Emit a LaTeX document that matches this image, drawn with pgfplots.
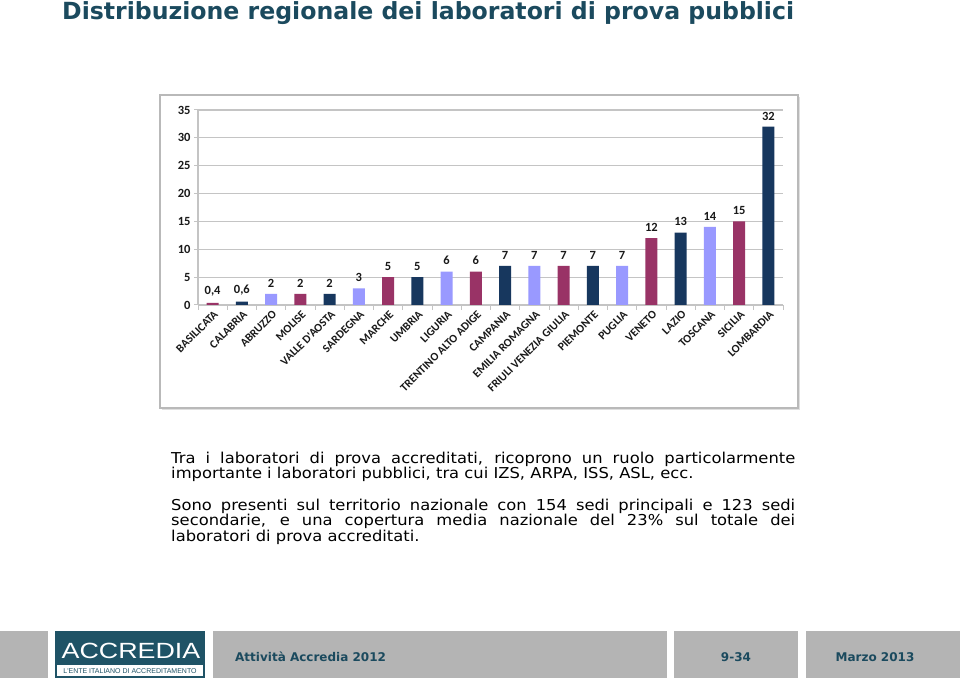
\documentclass[border=0pt]{standalone}
\usepackage{fontspec}
\setmainfont{DejaVu Sans}
\newfontfamily\carlito{Carlito}
\newfontfamily\libsans{Liberation Sans}
\usepackage{pgfplots}
\pgfplotsset{compat=1.18}
\definecolor{navy}{HTML}{17375E}
\definecolor{lilac}{HTML}{9999FF}
\definecolor{maroonc}{HTML}{993366}
\definecolor{titlecol}{HTML}{1B4A5E}
\definecolor{footgray}{HTML}{B4B4B4}
\definecolor{logoteal}{HTML}{1F5366}
\definecolor{gridc}{HTML}{C4C4C4}
\begin{document}
\begin{tikzpicture}[x=1pt,y=1pt]
\path[use as bounding box] (0,0) rectangle (960,680);
\fill[white] (0,0) rectangle (960,680);
% title
\node[anchor=base west, text=titlecol, font=\fontsize{23.6}{27}\selectfont\bfseries, inner sep=0] at (62,660) {Distribuzione regionale dei laboratori di prova pubblici};
% chart frame
\fill[gray!25] (162,270) rectangle (800,583);
\draw[gray!55, line width=1.5, fill=white] (160,272) rectangle (798,585);
\begin{axis}[
  at={(198pt,375pt)}, anchor=south west,
  scale only axis, width=585pt, height=195pt,
  xmin=-0.5, xmax=19.5, ymin=0, ymax=35,
  ybar, bar width=12pt,
  axis x line*=bottom, axis y line*=left,
  axis line style={draw=gridc, line width=1.2pt},
  ytick={0,5,...,35},
  ymajorgrids, grid style={draw=gridc, line width=1.2pt},
  ytick align=outside, ytick style={draw=gridc, line width=1pt}, major tick length=4pt,
  xtick={0,...,19}, xtick style={draw=none},
  minor xtick={-0.5,0.5,...,19.5}, minor tick length=5pt, xminorticks=true,
  minor x tick style={draw=gridc, line width=1pt},
  xtick align=outside,
  xticklabels={BASILICATA,CALABRIA,ABRUZZO,MOLISE,VALLE D'AOSTA,SARDEGNA,MARCHE,UMBRIA,LIGURIA,TRENTINO ALTO ADIGE,CAMPANIA,EMILIA ROMAGNA,FRIULI VENEZIA GIULIA,PIEMONTE,PUGLIA,VENETO,LAZIO,TOSCANA,SICILIA,LOMBARDIA},
  x tick label style={rotate=45, anchor=east, font=\carlito\bfseries\fontsize{11.5}{12}\selectfont, color=black!90, inner sep=1pt, yshift=-5pt, xshift=1pt},
  y tick label style={font=\carlito\bfseries\fontsize{12.5}{13}\selectfont, color=black!90},
  /pgf/number format/assume math mode=true,
  /pgf/number format/use comma,
  nodes near coords,
  every node near coord/.append style={font=\carlito\bfseries\fontsize{12.5}{13}\selectfont, color=black!90, yshift=3pt},
]
\addplot[fill=maroonc, draw=none, bar shift=0pt] coordinates {(0,0.4) (3,2) (6,5) (9,6) (12,7) (15,12) (18,15)};
\addplot[fill=navy, draw=none, bar shift=0pt] coordinates {(1,0.6) (4,2) (7,5) (10,7) (13,7) (16,13) (19,32)};
\addplot[fill=lilac, draw=none, bar shift=0pt] coordinates {(2,2) (5,3) (8,6) (11,7) (14,7) (17,14)};
\end{axis}
% paragraphs
\begin{scope}[every node/.style={anchor=base west, inner sep=0, xscale=1.09, font=\fontsize{15}{16}\selectfont}]
\node at (171,216) {\makebox[572.5pt][s]{Tra i laboratori di prova accreditati, ricoprono un ruolo particolarmente}};
\node at (171,201) {importante i laboratori pubblici, tra cui IZS, ARPA, ISS, ASL, ecc.};
\node at (171,170) {\makebox[572.5pt][s]{Sono presenti sul territorio nazionale con 154 sedi principali e 123 sedi}};
\node at (171,155) {\makebox[572.5pt][s]{secondarie, e una copertura media nazionale del 23\% sul totale dei}};
\node at (171,139) {laboratori di prova accreditati.};
\end{scope}
% footer
\fill[footgray] (0,2) rectangle (48,49);
\fill[logoteal] (55,2) rectangle (205,49);
\fill[white] (57,4) rectangle (203,15);
\node[anchor=base, text=white, font=\libsans\fontsize{22}{24}\selectfont, xscale=1.22, inner sep=0] at (131,22) {ACCREDIA};
\node[anchor=base, text=logoteal, font=\libsans\fontsize{7}{8}\selectfont, inner sep=0] at (130,6.5) {L'ENTE ITALIANO DI ACCREDITAMENTO};
\fill[footgray] (213,2) rectangle (667,49);
\fill[footgray] (674,2) rectangle (798,49);
\fill[footgray] (806,2) rectangle (960,49);
\begin{scope}[every node/.style={inner sep=0, text=titlecol, font=\fontsize{12}{14}\selectfont\bfseries}]
\node[anchor=base west] at (235,19) {Attività Accredia 2012};
\node[anchor=base] at (736,19) {9-34};
\node[anchor=base] at (875,19) {Marzo 2013};
\end{scope}
\end{tikzpicture}
\end{document}
